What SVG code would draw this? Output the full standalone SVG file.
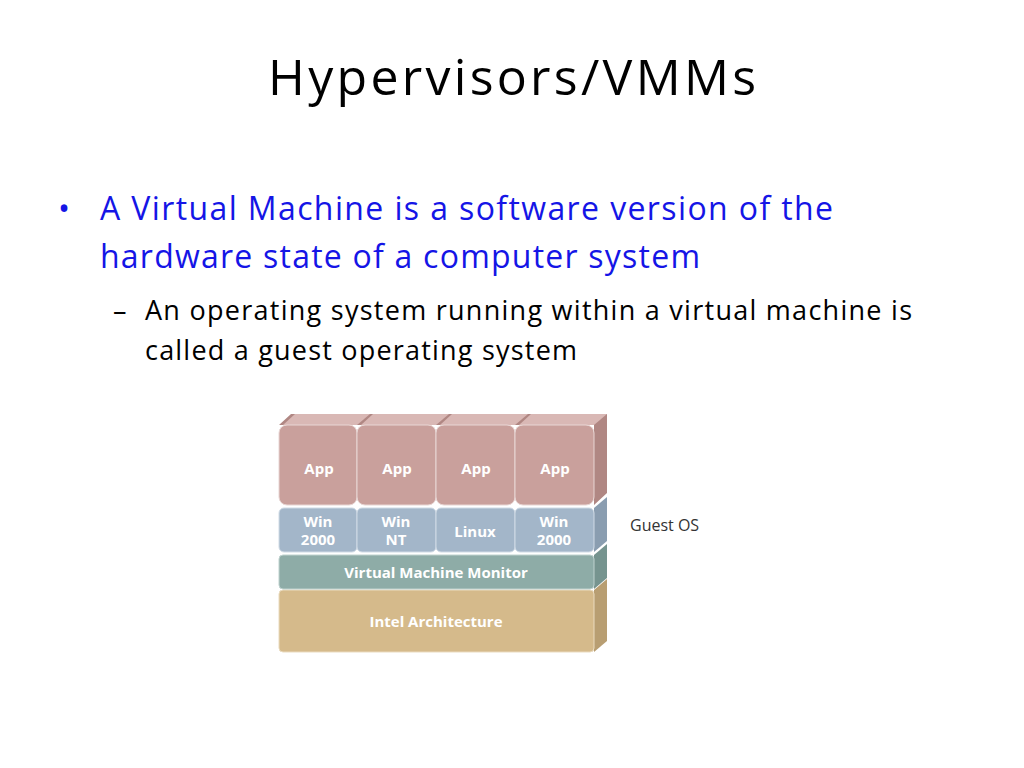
<svg xmlns="http://www.w3.org/2000/svg" width="1024" height="768" viewBox="0 0 1024 768">
<style>
.t{font-family:"Open Sans","Liberation Sans",sans-serif}
.b{font-family:"Open Sans","Liberation Sans",sans-serif;font-weight:bold;fill:#fff;font-size:15px;text-anchor:middle}
.app{fill:#c9a09c;stroke:#e8d6d4;stroke-width:1}
.appS{fill:#b08783}
.os{fill:#a3b6c9;stroke:#d0dbe6;stroke-width:1}
.osS{fill:#8a9db0}
</style>
<rect width="1024" height="768" fill="#fff"/>
<text class="t" x="512" y="95" font-size="50" text-anchor="middle" fill="#000" textLength="488">Hypervisors/VMMs</text>
<text class="t" x="58" y="220" font-size="32" fill="#1515e6">•</text>
<text class="t" x="100" y="220" font-size="32" fill="#1515e6" textLength="733">A Virtual Machine is a software version of the</text>
<text class="t" x="100" y="268" font-size="32" fill="#1515e6" textLength="600">hardware state of a computer system</text>
<text class="t" x="113" y="320" font-size="27" fill="#000">–</text>
<text class="t" x="145" y="320" font-size="27" fill="#000" textLength="767">An operating system running within a virtual machine is</text>
<text class="t" x="145" y="360" font-size="27" fill="#000" textLength="432">called a guest operating system</text>

<g id="intel">
<path d="M594 590 L607 579 L607 641 L594 652 Z" fill="#b89e72"/>
<rect x="279" y="590" width="315" height="62" rx="4" fill="#d5ba8b" stroke="#eadbbf"/>
<text class="b" x="436" y="627" fill="#fff">Intel Architecture</text>
</g>
<g id="vmm">
<path d="M594 555 L607 544 L607 578 L594 589 Z" fill="#76948f"/>
<rect x="279" y="555" width="315" height="34" rx="4" fill="#8eaca7" stroke="#bfd2cf"/>
<text class="b" x="436" y="578" fill="#f3efa8">Virtual Machine Monitor</text>
</g>
<g id="os">
<path d="M594 508 L607 497 L607 541 L594 552 Z" class="osS"/>
<rect x="279" y="508" width="78" height="44" rx="5" class="os"/>
<rect x="357" y="508" width="79" height="44" rx="5" class="os"/>
<rect x="436" y="508" width="79" height="44" rx="5" class="os"/>
<rect x="515" y="508" width="79" height="44" rx="5" class="os"/>
<text class="b" x="318" y="527">Win</text><text class="b" x="318" y="545">2000</text>
<text class="b" x="396" y="527">Win</text><text class="b" x="396" y="545">NT</text>
<text class="b" x="475" y="537">Linux</text>
<text class="b" x="554" y="527">Win</text><text class="b" x="554" y="545">2000</text>
</g>
<g id="apps">
<path d="M279 425 L291 414 L594 414 L607 414 L607 493 L594 505 L594 425 Z" class="appS"/>
<path d="M283 425 L295 414 L358 414 L370 414 L357 425 Z" fill="#d9b8b5"/>
<path d="M361 425 L373 414 L437 414 L449 414 L436 425 Z" fill="#d9b8b5"/>
<path d="M440 425 L452 414 L516 414 L528 414 L515 425 Z" fill="#d9b8b5"/>
<path d="M519 425 L531 414 L595 414 L607 414 L594 425 Z" fill="#d9b8b5"/>
<rect x="279" y="425" width="78" height="80" rx="8" class="app"/>
<rect x="357" y="425" width="79" height="80" rx="8" class="app"/>
<rect x="436" y="425" width="79" height="80" rx="8" class="app"/>
<rect x="515" y="425" width="79" height="80" rx="8" class="app"/>
<text class="b" x="319" y="474">App</text>
<text class="b" x="397" y="474">App</text>
<text class="b" x="476" y="474">App</text>
<text class="b" x="555" y="474">App</text>
</g>
<text class="t" x="630" y="531" font-size="16" fill="#333">Guest OS</text>
</svg>
